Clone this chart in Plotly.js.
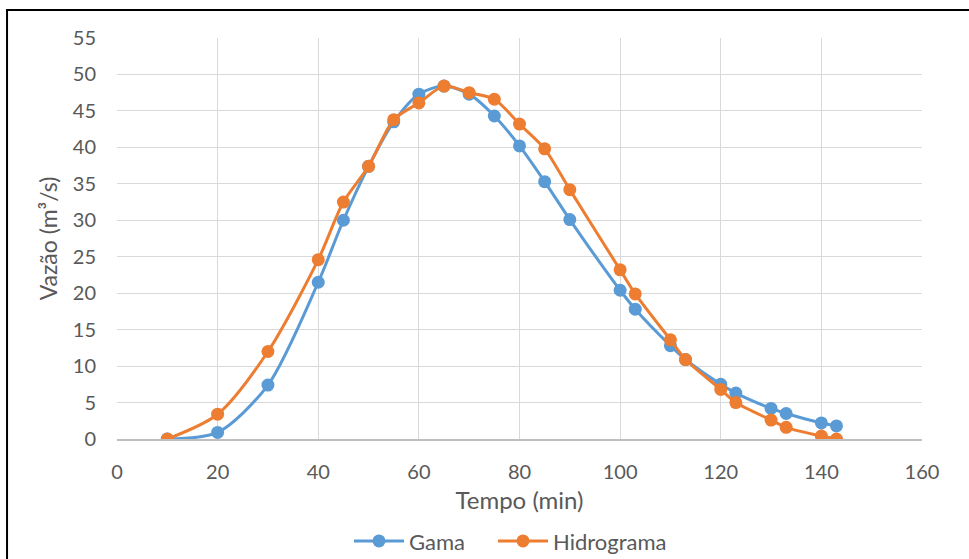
<!DOCTYPE html>
<html>
<head>
<meta charset="utf-8">
<script src="https://cdn.plot.ly/plotly-3.0.1.min.js"></script>
<style>
  html, body { margin: 0; padding: 0; background: #fff; }
  #chart { width: 969px; height: 559px; }
</style>
</head>
<body>
<div id="chart"></div>
<script>
const tempo = [10, 20, 30, 40, 45, 50, 55, 60, 65, 70, 75, 80, 85, 90, 100, 103, 110, 113, 120, 123, 130, 133, 140, 143];
const gama = [0, 0.9, 7.4, 21.5, 30.0, 37.4, 43.5, 47.3, 48.4, 47.3, 44.3, 40.2, 35.3, 30.1, 20.4, 17.8, 12.8, 10.9, 7.5, 6.3, 4.2, 3.5, 2.2, 1.8];
const hidrograma = [0, 3.4, 12.0, 24.6, 32.5, 37.4, 43.8, 46.1, 48.4, 47.5, 46.6, 43.2, 39.8, 34.2, 23.2, 19.9, 13.6, 10.9, 6.8, 5.0, 2.6, 1.6, 0.4, 0.0];
const seriesNames = ['Gama', 'Hidrograma'];
const xTitle = 'Tempo (min)';
const yTitle = 'Vazão (m³/s)';

const font = 'Lato, "Open Sans", sans-serif';
const textColor = '#595959';

const traces = [
  {
    x: tempo, y: gama, name: seriesNames[0], type: 'scatter', mode: 'lines+markers',
    legend: 'legend',
    line: { color: '#5B9BD5', width: 3, shape: 'spline', smoothing: 0.8 },
    marker: { color: '#5B9BD5', size: 13 }
  },
  {
    x: tempo, y: hidrograma, name: seriesNames[1], type: 'scatter', mode: 'lines+markers',
    legend: 'legend2',
    line: { color: '#ED7D31', width: 3, shape: 'spline', smoothing: 0.8 },
    marker: { color: '#ED7D31', size: 13 }
  }
];

function legendAt(px) {
  return {
    orientation: 'h', x: px / 969, xanchor: 'left', xref: 'container',
    y: 0.032, yanchor: 'middle', yref: 'container', itemwidth: 50,
    font: { family: font, color: textColor, size: 22 }, bgcolor: 'rgba(0,0,0,0)'
  };
}

const layout = {
  width: 969, height: 559,
  margin: { l: 117, r: 47, t: 38, b: 120 },
  paper_bgcolor: '#fff', plot_bgcolor: '#fff',
  font: { family: font, color: textColor, size: 20 },
  showlegend: true,
  legend: legendAt(349),
  legend2: legendAt(493),
  xaxis: {
    range: [0, 160], dtick: 20, tick0: 0, automargin: false,
    showgrid: true, gridcolor: '#d9d9d9', gridwidth: 1,
    zeroline: false, showline: true, linecolor: '#bfbfbf', linewidth: 1.5,
    ticks: '', ticklabelstandoff: 14,
    tickfont: { family: font, color: textColor, size: 20 },
    title: { text: xTitle, font: { family: font, color: textColor, size: 24 }, standoff: 10 }
  },
  yaxis: {
    range: [0, 55], dtick: 5, tick0: 0, automargin: false,
    showgrid: true, gridcolor: '#d9d9d9', gridwidth: 1,
    zeroline: false, showline: false,
    ticks: '', ticklabelstandoff: 20,
    tickfont: { family: font, color: textColor, size: 20 },
    title: { text: yTitle, font: { family: font, color: textColor, size: 23 }, standoff: 8 }
  },
  shapes: [
    { type: 'rect', xref: 'paper', yref: 'paper', x0: -0.1366, x1: 1.2, y0: -0.5, y1: 1.0698,
      line: { color: '#000', width: 2 }, fillcolor: 'rgba(0,0,0,0)', layer: 'above' }
  ]
};

Plotly.newPlot('chart', traces, layout, { displayModeBar: false, staticPlot: true });
</script>
</body>
</html>
